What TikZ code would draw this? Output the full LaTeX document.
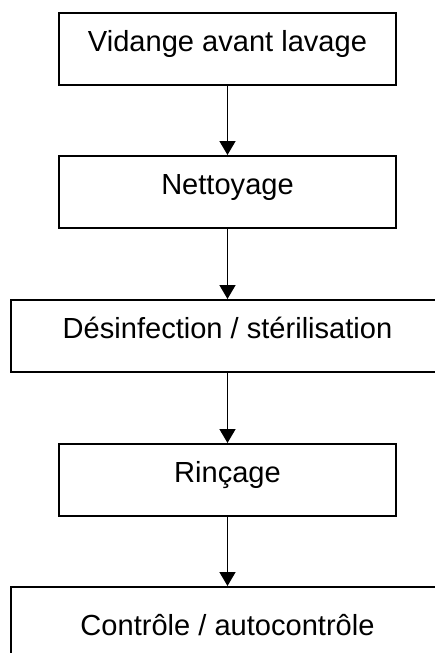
\documentclass[tikz,border=0pt]{standalone}
\usepackage{fontspec}
\setmainfont{Liberation Sans}
\usetikzlibrary{arrows.meta}

\begin{document}
\begin{tikzpicture}[
  x=0.75pt,y=-0.75pt,
  font=\fontsize{21.8}{26}\selectfont,
  etape/.style={draw,line width=1.5pt,anchor=north,inner sep=0pt,minimum width=252.75pt,text height=28.5pt,text depth=25.5pt},
  large/.style={etape,minimum width=325pt},
  arr/.style={-{Triangle[length=10.5pt,width=12pt]},line width=1.2pt}
]
\useasboundingbox (0,0) rectangle (435,653);
\clip (0,0) rectangle (435,653);

\node[etape] (vidange) at (227.5,12) {Vidange avant lavage};
\node[etape] (nettoyage) at (227.5,155) {Nettoyage};
\node[large] (desinfection) at (227.5,299) {Désinfection / stérilisation};
\node[etape] (rincage) at (227.5,443) {Rinçage};
\node[large,text height=36pt,text depth=40pt] (controle) at (227.5,586) {Contrôle / autocontrôle};

\draw[arr] (vidange) -- (nettoyage);
\draw[arr] (nettoyage) -- (desinfection);
\draw[arr] (desinfection) -- (rincage);
\draw[arr] (rincage) -- (controle);
\end{tikzpicture}
\end{document}
